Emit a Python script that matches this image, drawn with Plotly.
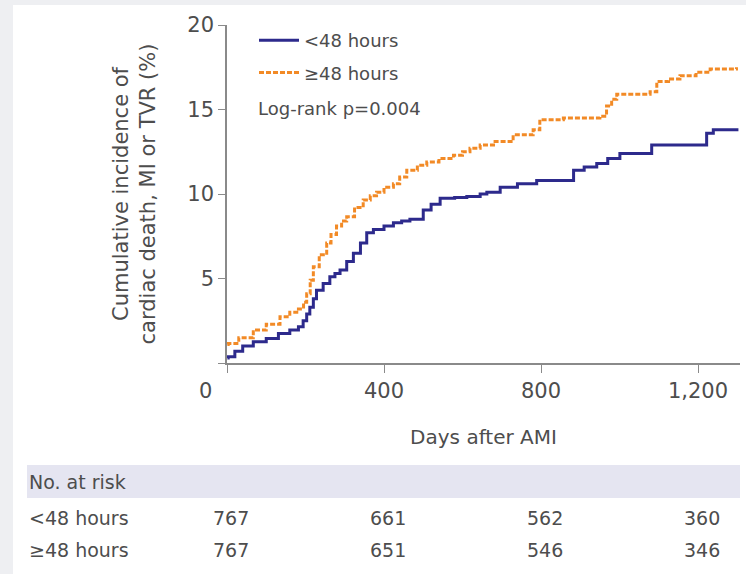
import plotly.graph_objects as go

# ---- data ----
blue_days = [1, 3, 20, 40, 67, 100, 131, 160, 182, 194, 203, 211, 220, 228, 245, 262, 275, 288, 305, 322, 340, 356,
             373, 400, 424, 445, 466, 500, 520, 543, 580, 611, 645, 662, 696, 740, 789, 874, 883, 910, 942, 970,
             1001, 1078, 1082, 1205, 1222, 1239, 1303]
blue_vals = [0.3, 0.37, 0.7, 1.0, 1.26, 1.45, 1.75, 1.95, 2.15, 2.5, 2.9, 3.3, 3.8, 4.3, 4.7, 5.1, 5.3, 5.5, 6.0, 6.5,
             7.1, 7.7, 7.9, 8.1, 8.3, 8.4, 8.5, 9.05, 9.4, 9.75, 9.8, 9.85, 10.0, 10.1, 10.4, 10.6, 10.8, 10.8, 11.4,
             11.6, 11.8, 12.1, 12.4, 12.4, 12.9, 12.9, 13.6, 13.8, 13.8]

orange_days = [1, 3, 30, 67, 100, 135, 160, 182, 195, 203, 212, 220, 235, 254, 265, 279, 292, 305, 325, 347, 365,
               381, 400, 424, 440, 458, 485, 509, 540, 577, 600, 619, 645, 679, 729, 780, 797, 857, 950, 967, 980,
               993, 1078, 1095, 1125, 1154, 1195, 1231, 1298]
orange_vals = [1.1, 1.16, 1.5, 1.95, 2.3, 2.74, 3.0, 3.2, 3.6, 4.1, 4.9, 5.7, 6.4, 7.1, 7.6, 8.1, 8.4, 8.65, 9.2,
               9.65, 9.9, 10.1, 10.4, 10.6, 11.0, 11.4, 11.7, 11.9, 12.1, 12.3, 12.5, 12.7, 12.9, 13.1, 13.5, 13.8,
               14.4, 14.5, 14.6, 15.2, 15.6, 15.9, 16.05, 16.65, 16.8, 17.0, 17.2, 17.4, 17.5]

series_names = ["<48 hours", "≥48 hours"]
x_tickvals = [0, 400, 800, 1200]
x_ticktext = ["", "400", "800", "1,200"]
y_tickvals = [0, 5, 10, 15, 20]
y_ticktext = ["", "5", "10", "15", "20"]
risk_times = [0, 400, 800, 1200]
risk_lt48 = [767, 661, 562, 360]
risk_ge48 = [767, 651, 546, 346]

BLUE = "#2d2a8c"
ORANGE = "#f28a26"
TXT = "#4d4d4d"
FONT = "DejaVu Sans"

fig = go.Figure()
fig.add_trace(go.Scatter(x=blue_days, y=blue_vals, mode="lines", line_shape="hv", name=series_names[0],
                         line=dict(color=BLUE, width=3)))
fig.add_trace(go.Scatter(x=orange_days, y=orange_vals, mode="lines", line_shape="hv", name=series_names[1],
                         line=dict(color=ORANGE, width=3, dash="5px,2px")))

W, H = 746, 574
L, R, T, B = 227, 6, 25, 211
pw, ph = W - L - R, H - T - B


def px(xp):
    return (xp - L) / pw


def py(yp):
    return (H - B - yp) / ph


shapes = [
    dict(type="rect", xref="paper", yref="paper", x0=px(13), x1=px(W + 5), y0=py(5), y1=py(H + 5),
         fillcolor="white", line_width=0, layer="below"),
    dict(type="rect", xref="paper", yref="paper", x0=px(27), x1=px(740), y0=py(465), y1=py(498),
         fillcolor="#e5e5f1", line_width=0, layer="below"),
]


def txt(text, x, y, xanchor="left", size=18, family=FONT, xref="paper", xshift=0):
    return dict(text=text, xref=xref, yref="paper", x=x, y=y, xanchor=xanchor, yanchor="middle",
                xshift=xshift, showarrow=False, font=dict(family=family, size=size, color=TXT))


annotations = [
    txt("Log-rank p=0.004", px(256), py(108), size=18),
    txt("0", px(205), py(391), xanchor="center", size=21),
    txt("No. at risk", px(27), py(482), size=19),
    txt(series_names[0], px(27), py(518), size=19),
    txt(series_names[1], px(27), py(550), size=19),
]
for t, a, b in zip(risk_times, risk_lt48, risk_ge48):
    annotations.append(txt(str(a), t, py(518), xanchor="center", size=19, xref="x", xshift=4))
    annotations.append(txt(str(b), t, py(550), xanchor="center", size=19, xref="x", xshift=4))

fig.update_layout(
    width=W, height=H,
    margin=dict(l=L, r=R, t=T, b=B, autoexpand=False),
    paper_bgcolor="#eeeff2",
    plot_bgcolor="white",
    font=dict(family=FONT, color=TXT),
    showlegend=True,
    legend=dict(x=px(254), y=py(22), xanchor="left", yanchor="top", bgcolor="rgba(0,0,0,0)",
                font=dict(family=FONT, size=18, color=TXT), tracegroupgap=6, traceorder="grouped",
                itemwidth=40),
    shapes=shapes,
    annotations=annotations,
    xaxis=dict(range=[0, 1307], tickvals=x_tickvals, ticktext=x_ticktext, ticks="outside", ticklen=8,
               tickcolor="#8a8a8a", showline=True, linecolor="#8a8a8a", linewidth=1.5, showgrid=False,
               zeroline=False, automargin=False, tickfont=dict(family=FONT, size=21, color=TXT),
               title=dict(text="Days after AMI", font=dict(family=FONT, size=20, color=TXT), standoff=28)),
    yaxis=dict(range=[0, 20], tickvals=y_tickvals, ticktext=y_ticktext, ticks="outside", ticklen=7,
               tickcolor="#8a8a8a", showline=True, linecolor="#8a8a8a", linewidth=1.5, showgrid=False,
               zeroline=False, automargin=False, tickfont=dict(family=FONT, size=21, color=TXT),
               title=dict(text="Cumulative incidence of<br>cardiac death, MI or TVR (%)",
                          font=dict(family=FONT, size=21, color=TXT), standoff=26)),
)
for i, tr in enumerate(fig.data):
    tr.legendgroup = f"g{i}"

fig.write_html("out.html", config={"displayModeBar": False},
               post_script="document.body.style.margin='0';")
